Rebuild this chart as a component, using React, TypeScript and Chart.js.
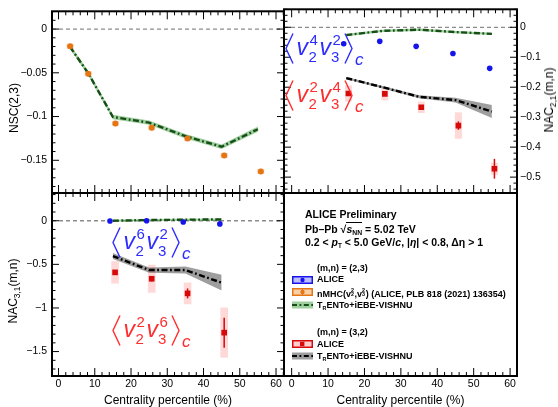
import React, { useEffect, useRef } from "react";
import { Chart, registerables } from "chart.js";
Chart.register(...registerables);

const W = 558;
const H = 407;
const FONT = "'Liberation Sans', Arial, Helvetica, sans-serif";

const BLUE = "rgb(20,20,235)";
const RED = "rgb(215,10,10)";
const ORANGE = "rgb(228,118,22)";
const GREEN_LINE = "rgb(22,78,22)";
const GREEN_BAND = "rgba(80,165,80,0.55)";
const BLACK_LINE = "#000";
const GRAY_BAND = "rgba(0,0,0,0.38)";
const TXT_BLUE = "rgb(45,45,255)";
const TXT_RED = "rgb(255,45,45)";

// ---------- shared axis ----------
const xTickValues = [0, 10, 20, 30, 40, 50, 60];

// ---------- NSC(2,3) panel ----------
const nscX = [3.2, 8.2, 15.7, 25.7, 35.6, 45.7, 55.8];
const nscY = [-0.0197, -0.051, -0.108, -0.1127, -0.125, -0.1445, -0.1627];
const nscStat = [0.0015, 0.0015, 0.0018, 0.0018, 0.002, 0.002, 0.002];
const nscSys = [0.003, 0.003, 0.003, 0.003, 0.003, 0.003, 0.003];
const nscModelX = [3.2, 8.2, 15, 25, 35, 45, 55];
const nscModelY = [-0.0205, -0.0505, -0.1005, -0.107, -0.1225, -0.1345, -0.1145];
const nscModelErr = [0.0025, 0.0025, 0.0025, 0.0025, 0.0025, 0.0025, 0.003];
const nscYTicks = [0, -0.05, -0.1, -0.15];

// ---------- NAC2,1 panel ----------
const nac21BlueX = [14.3, 24.2, 34.2, 44.3, 54.4];
const nac21BlueY = [-0.055, -0.047, -0.0636, -0.0875, -0.137];
const nac21RedX = [15.6, 25.6, 35.6, 45.8, 55.7];
const nac21RedY = [-0.221, -0.222, -0.267, -0.328, -0.472];
const nac21RedStat = [0.006, 0.006, 0.007, 0.014, 0.033];
const nac21RedSys = [0.027, 0.022, 0.019, 0.044, 0.02];
const nac21GreenX = [15, 25, 35, 45, 55];
const nac21GreenY = [-0.026, -0.012, -0.008, -0.016, -0.022];
const nac21GreenErr = [0.004, 0.004, 0.004, 0.004, 0.004];
const nac21BlackX = [15, 25, 35, 45, 55];
const nac21BlackY = [-0.1695, -0.2, -0.232, -0.243, -0.281];
const nac21BlackErr = [0.004, 0.004, 0.005, 0.008, 0.022];
const nac21YTicks = [0, -0.1, -0.2, -0.3, -0.4, -0.5];

// ---------- NAC3,1 panel ----------
const nac31BlueX = [14.2, 24.3, 34.4, 44.5];
const nac31BlueY = [-0.003, 0, -0.015, -0.036];
const nac31RedX = [15.6, 25.7, 35.6, 45.7];
const nac31RedY = [-0.592, -0.665, -0.833, -1.283];
const nac31RedStat = [0.012, 0.03, 0.057, 0.172];
const nac31RedSys = [0.128, 0.16, 0.124, 0.287];
const nac31GreenX = [15, 25, 35, 45];
const nac31GreenY = [0.0, 0.008, 0.012, 0.015];
const nac31GreenErr = [0.012, 0.012, 0.012, 0.012];
const nac31BlackX = [15, 25, 35, 45];
const nac31BlackY = [-0.405, -0.565, -0.565, -0.71];
const nac31BlackErr = [0.035, 0.03, 0.04, 0.09];
const nac31YTicks = [0, -0.5, -1, -1.5];

// ---------- helpers ----------
const pts = (xs: number[], ys: number[]) => xs.map((x, i) => ({ x, y: ys[i] }));

const fmt = (v: number) =>
  v === 0 ? "0" : (v < 0 ? "\u2212" : "") + String(Math.round(Math.abs(v) * 1000) / 1000);

const pointSet = (xs: number[], ys: number[], color: string, style: string, radius: number) => ({
  data: pts(xs, ys),
  showLine: false,
  pointStyle: style,
  pointRadius: radius,
  pointBackgroundColor: color,
  pointBorderColor: color,
  pointBorderWidth: 0,
  borderColor: "transparent",
  order: 0,
});

const lineSet = (xs: number[], ys: number[], color: string) => ({
  data: pts(xs, ys),
  borderColor: color,
  borderWidth: 2.4,
  borderDash: [6, 2.5, 1.8, 2.5],
  pointRadius: 0,
  fill: false,
  tension: 0,
  order: 1,
});

const bandSets = (xs: number[], ys: number[], e: number[], color: string) => [
  {
    data: pts(xs, ys.map((v, i) => v + e[i])),
    borderColor: "transparent",
    borderWidth: 0,
    pointRadius: 0,
    fill: false,
    order: 2,
  },
  {
    data: pts(xs, ys.map((v, i) => v - e[i])),
    borderColor: "transparent",
    borderWidth: 0,
    pointRadius: 0,
    fill: "-1",
    backgroundColor: color,
    order: 2,
  },
];

type Err = { x: number[]; y: number[]; e: number[]; color: string; hw?: number };
type PanelCfg = {
  zero: boolean;
  boxes: Err[];
  bars: Err[];
  sides: { top: boolean; bottom: boolean; left: boolean; right: boolean };
  yTicks: number[];
  yMinor: number;
};

function panelPlugin(cfg: PanelCfg) {
  return {
    id: "panel",
    beforeDatasetsDraw(chart: any) {
      const { ctx, chartArea: a, scales } = chart;
      const x = scales.x;
      const y = scales.y;
      ctx.save();
      ctx.beginPath();
      ctx.rect(a.left, a.top, a.right - a.left, a.bottom - a.top);
      ctx.clip();
      if (cfg.zero) {
        const py = y.getPixelForValue(0);
        ctx.strokeStyle = "#8c8c8c";
        ctx.lineWidth = 1.3;
        ctx.setLineDash([4, 3]);
        ctx.beginPath();
        ctx.moveTo(a.left, py);
        ctx.lineTo(a.right, py);
        ctx.stroke();
        ctx.setLineDash([]);
      }
      for (const b of cfg.boxes) {
        ctx.fillStyle = b.color;
        const hw = b.hw ?? 3.5;
        b.x.forEach((xv, i) => {
          const px = x.getPixelForValue(xv);
          const t = y.getPixelForValue(b.y[i] + b.e[i]);
          const bt = y.getPixelForValue(b.y[i] - b.e[i]);
          ctx.fillRect(px - hw, t, 2 * hw, bt - t);
        });
      }
      ctx.restore();
    },
    afterDatasetsDraw(chart: any) {
      const { ctx, scales } = chart;
      const x = scales.x;
      const y = scales.y;
      ctx.save();
      for (const b of cfg.bars) {
        ctx.strokeStyle = b.color;
        ctx.lineWidth = 1.5;
        b.x.forEach((xv, i) => {
          const px = x.getPixelForValue(xv);
          ctx.beginPath();
          ctx.moveTo(px, y.getPixelForValue(b.y[i] + b.e[i]));
          ctx.lineTo(px, y.getPixelForValue(b.y[i] - b.e[i]));
          ctx.stroke();
        });
      }
      ctx.restore();
    },
    afterDraw(chart: any) {
      const { ctx, chartArea: a, scales } = chart;
      const x = scales.x;
      const y = scales.y;
      ctx.save();
      ctx.strokeStyle = "#000";
      ctx.lineWidth = 1;
      const xMaj = 8, xMin = 4, yMaj = 7, yMin = 3.5;
      const drawX = (v: number, len: number) => {
        const px = x.getPixelForValue(v);
        ctx.beginPath();
        if (cfg.sides.bottom) { ctx.moveTo(px, a.bottom); ctx.lineTo(px, a.bottom - len); }
        if (cfg.sides.top) { ctx.moveTo(px, a.top); ctx.lineTo(px, a.top + len); }
        ctx.stroke();
      };
      const drawY = (v: number, len: number) => {
        const py = y.getPixelForValue(v);
        ctx.beginPath();
        if (cfg.sides.left) { ctx.moveTo(a.left, py); ctx.lineTo(a.left + len, py); }
        if (cfg.sides.right) { ctx.moveTo(a.right, py); ctx.lineTo(a.right - len, py); }
        ctx.stroke();
      };
      for (let k = Math.ceil(x.min / 2); k * 2 <= x.max; k++) {
        const v = k * 2;
        drawX(v, v % 10 === 0 ? xMaj : xMin);
      }
      if (cfg.sides.left || cfg.sides.right) {
        const st = cfg.yMinor;
        for (let k = Math.ceil(y.min / st - 1e-6); k * st <= y.max + 1e-9; k++) {
          const v = k * st;
          const isMaj = cfg.yTicks.some((t) => Math.abs(t - v) < st / 10);
          drawY(v, isMaj ? yMaj : yMin);
        }
      }
      ctx.lineWidth = 2;
      ctx.strokeRect(a.left, a.top, a.right - a.left, a.bottom - a.top);
      ctx.restore();
    },
  };
}

type Area = { l: number; t: number; r: number; b: number };

function buildConfig(p: {
  area: Area;
  xMin: number;
  xMax: number;
  yMin: number;
  yMax: number;
  xLabels: boolean;
  yPos: "left" | "right" | null;
  datasets: any[];
  cfg: PanelCfg;
}): any {
  const { area } = p;
  return {
    type: "line",
    data: { datasets: p.datasets },
    options: {
      responsive: false,
      animation: false,
      devicePixelRatio: 1,
      events: [],
      layout: {
        padding: {
          left: p.yPos === "left" ? 0 : area.l,
          right: p.yPos === "right" ? 0 : W - area.r,
          top: area.t,
          bottom: p.xLabels ? 0 : H - area.b,
        },
      },
      plugins: { legend: { display: false }, tooltip: { enabled: false } },
      scales: {
        x: {
          type: "linear",
          min: p.xMin,
          max: p.xMax,
          display: p.xLabels,
          grid: { display: false, drawTicks: false },
          border: { display: false },
          ticks: {
            padding: 2,
            autoSkip: false,
            maxRotation: 0,
            font: { family: FONT, size: 10.5 },
            color: "#000",
            callback: (v: any) => fmt(Number(v)),
          },
          afterBuildTicks: (s: any) => {
            s.ticks = xTickValues.map((v) => ({ value: v }));
          },
          afterFit: (s: any) => {
            s.height = p.xLabels ? H - area.b : 0;
          },
          title: {
            display: p.xLabels,
            text: "Centrality percentile (%)",
            font: { family: FONT, size: 12, lineHeight: 1 },
            color: "#000",
            padding: 0,
          },
        },
        y: {
          type: "linear",
          min: p.yMin,
          max: p.yMax,
          display: p.yPos !== null,
          position: p.yPos || "left",
          grid: { display: false, drawTicks: false },
          border: { display: false },
          ticks: {
            padding: p.yPos === "right" ? 3 : 5,
            autoSkip: false,
            font: { family: FONT, size: 10.5 },
            color: "#000",
            callback: (v: any) => fmt(Number(v)),
          },
          afterBuildTicks: (s: any) => {
            s.ticks = p.cfg.yTicks.map((v) => ({ value: v }));
          },
          afterFit: (s: any) => {
            s.width = p.yPos === "left" ? area.l : p.yPos === "right" ? W - area.r : 0;
          },
        },
      },
    },
    plugins: [panelPlugin(p.cfg)],
  };
}

const AREA_TL: Area = { l: 52, t: 6, r: 284, b: 193 };
const AREA_TR: Area = { l: 284, t: 6, r: 517, b: 193 };
const AREA_BL: Area = { l: 52, t: 193, r: 284, b: 376 };
const AREA_BR: Area = { l: 284, t: 193, r: 517, b: 376 };

function configTL() {
  return buildConfig({
    area: AREA_TL,
    xMin: -1.8,
    xMax: 62.2,
    yMin: -0.1874,
    yMax: 0.0203,
    xLabels: false,
    yPos: "left",
    datasets: [
      pointSet(nscX, nscY, ORANGE, "circle", 3),
      lineSet(nscModelX, nscModelY, GREEN_LINE),
      ...bandSets(nscModelX, nscModelY, nscModelErr, GREEN_BAND),
    ],
    cfg: {
      zero: true,
      boxes: [{ x: nscX, y: nscY, e: nscSys, color: "rgba(240,150,60,0.35)", hw: 3.5 }],
      bars: [{ x: nscX, y: nscY, e: nscStat, color: ORANGE }],
      sides: { top: true, bottom: true, left: true, right: true },
      yTicks: nscYTicks,
      yMinor: 0.01,
    },
  });
}

function configTR() {
  return buildConfig({
    area: AREA_TR,
    xMin: -2.1,
    xMax: 61.9,
    yMin: -0.553,
    yMax: 0.06,
    xLabels: false,
    yPos: "right",
    datasets: [
      pointSet(nac21BlueX, nac21BlueY, BLUE, "circle", 2.8),
      pointSet(nac21RedX, nac21RedY, RED, "rect", 4),
      lineSet(nac21GreenX, nac21GreenY, GREEN_LINE),
      lineSet(nac21BlackX, nac21BlackY, BLACK_LINE),
      ...bandSets(nac21GreenX, nac21GreenY, nac21GreenErr, GREEN_BAND),
      ...bandSets(nac21BlackX, nac21BlackY, nac21BlackErr, GRAY_BAND),
    ],
    cfg: {
      zero: true,
      boxes: [{ x: nac21RedX, y: nac21RedY, e: nac21RedSys, color: "rgba(255,60,60,0.2)", hw: 3.5 }],
      bars: [{ x: nac21RedX, y: nac21RedY, e: nac21RedStat, color: RED }],
      sides: { top: true, bottom: true, left: true, right: true },
      yTicks: nac21YTicks,
      yMinor: 0.02,
    },
  });
}

function configBL() {
  return buildConfig({
    area: AREA_BL,
    xMin: -1.8,
    xMax: 62.2,
    yMin: -1.78,
    yMax: 0.318,
    xLabels: true,
    yPos: "left",
    datasets: [
      pointSet(nac31BlueX, nac31BlueY, BLUE, "circle", 2.8),
      pointSet(nac31RedX, nac31RedY, RED, "rect", 4),
      lineSet(nac31GreenX, nac31GreenY, GREEN_LINE),
      lineSet(nac31BlackX, nac31BlackY, BLACK_LINE),
      ...bandSets(nac31GreenX, nac31GreenY, nac31GreenErr, GREEN_BAND),
      ...bandSets(nac31BlackX, nac31BlackY, nac31BlackErr, GRAY_BAND),
    ],
    cfg: {
      zero: true,
      boxes: [{ x: nac31RedX, y: nac31RedY, e: nac31RedSys, color: "rgba(255,60,60,0.2)", hw: 3.8 }],
      bars: [{ x: nac31RedX, y: nac31RedY, e: nac31RedStat, color: RED }],
      sides: { top: true, bottom: true, left: true, right: true },
      yTicks: nac31YTicks,
      yMinor: 0.1,
    },
  });
}

function configBR() {
  return buildConfig({
    area: AREA_BR,
    xMin: -2.1,
    xMax: 61.9,
    yMin: 0,
    yMax: 1,
    xLabels: true,
    yPos: null,
    datasets: [],
    cfg: {
      zero: false,
      boxes: [],
      bars: [],
      sides: { top: false, bottom: true, left: false, right: false },
      yTicks: [],
      yMinor: 1,
    },
  });
}

// ---------- overlays ----------
function Glyph(props: { t: string; left: number; base: number; size: number; italic?: boolean }) {
  return (
    <span
      style={{
        position: "absolute",
        left: props.left,
        top: props.base - 0.8465 * props.size,
        fontSize: props.size,
        lineHeight: 1,
        fontStyle: props.italic ? "italic" : "normal",
        whiteSpace: "nowrap",
      }}
    >
      {props.t}
    </span>
  );
}

function MathLabel(props: { x: number; y: number; color: string; s1: [string, string]; s2: [string, string] }) {
  const { color } = props;
  return (
    <div
      style={{
        position: "absolute",
        left: props.x,
        top: props.y,
        width: 90,
        height: 40,
        color,
        fontFamily: FONT,
      }}
    >
      <svg style={{ position: "absolute", left: 0, top: 0 }} width={9} height={31}>
        <polyline points="8,0.5 1,15.5 8,30.5" fill="none" stroke={color} strokeWidth={1.4} />
      </svg>
      <Glyph t="v" left={11.5} base={22} size={23} italic />
      <Glyph t={props.s1[0]} left={24.5} base={12} size={15} />
      <Glyph t={props.s1[1]} left={23.5} base={28.4} size={15} />
      <Glyph t="v" left={34.5} base={22} size={23} italic />
      <Glyph t={props.s2[0]} left={47.5} base={11.5} size={15} />
      <Glyph t={props.s2[1]} left={46} base={28.4} size={15} />
      <svg style={{ position: "absolute", left: 59, top: 0 }} width={9} height={31}>
        <polyline points="1,0.5 8,15.5 1,30.5" fill="none" stroke={color} strokeWidth={1.4} />
      </svg>
      <Glyph t="c" left={70} base={32} size={17} italic />
    </div>
  );
}

function YTitle(props: { cx: number; cy: number; children: React.ReactNode }) {
  return (
    <div
      style={{
        position: "absolute",
        left: props.cx,
        top: props.cy,
        transform: "translate(-50%,-50%) rotate(-90deg)",
        fontSize: 12,
        lineHeight: 1,
        whiteSpace: "nowrap",
        fontFamily: FONT,
        color: "#000",
      }}
    >
      {props.children}
    </div>
  );
}

const subStyle: React.CSSProperties = { fontSize: "0.7em", verticalAlign: "-0.3em", lineHeight: 0 };

function Txt(props: { x: number; cy: number; size: number; children: React.ReactNode }) {
  return (
    <div
      style={{
        position: "absolute",
        left: props.x,
        top: props.cy - 0.49 * props.size,
        fontSize: props.size,
        lineHeight: 1,
        fontWeight: "bold",
        whiteSpace: "nowrap",
        fontFamily: FONT,
        color: "#000",
      }}
    >
      {props.children}
    </div>
  );
}

function Stack(props: { sup: string; sub: string }) {
  const s: React.CSSProperties = { position: "absolute", left: 0, fontSize: "0.6em", lineHeight: 1 };
  return (
    <span
      style={{
        position: "relative",
        display: "inline-block",
        width: "0.4em",
        height: "1em",
        verticalAlign: "baseline",
      }}
    >
      <span style={{ ...s, top: "0.09em" }}>{props.sup}</span>
      <span style={{ ...s, top: "0.74em" }}>{props.sub}</span>
    </span>
  );
}

function Sym(props: { cy: number; kind: string }) {
  const { kind } = props;
  let body: React.ReactNode = null;
  if (kind === "blue" || kind === "orange" || kind === "red") {
    const col = kind === "blue" ? BLUE : kind === "orange" ? ORANGE : RED;
    const fill =
      kind === "blue" ? "rgba(70,70,255,0.35)" : kind === "orange" ? "rgba(240,150,60,0.45)" : "rgba(255,90,90,0.3)";
    body = (
      <>
        <rect x={0.75} y={0.75} width={19.5} height={6.5} fill={fill} stroke={col} strokeWidth={1.5} />
        {kind === "red" ? (
          <rect x={8} y={1.8} width={4.4} height={4.4} fill={col} />
        ) : (
          <circle cx={10.5} cy={4} r={2.2} fill={col} />
        )}
        {kind === "orange" && <line x1={10.5} y1={1} x2={10.5} y2={7} stroke={col} strokeWidth={1} />}
      </>
    );
  } else {
    const band = kind === "green" ? GREEN_BAND : GRAY_BAND;
    const line = kind === "green" ? GREEN_LINE : BLACK_LINE;
    body = (
      <>
        <rect x={0} y={0.5} width={21} height={7} fill={band} />
        <line x1={0} y1={4} x2={21} y2={4} stroke={line} strokeWidth={2} strokeDasharray="5 2.5 1.8 2.5" />
      </>
    );
  }
  return (
    <svg style={{ position: "absolute", left: 292, top: props.cy - 4 }} width={21} height={8}>
      {body}
    </svg>
  );
}

export default function App() {
  const r1 = useRef<HTMLCanvasElement>(null);
  const r2 = useRef<HTMLCanvasElement>(null);
  const r3 = useRef<HTMLCanvasElement>(null);
  const r4 = useRef<HTMLCanvasElement>(null);

  useEffect(() => {
    Chart.defaults.font.family = FONT;
    const charts = [
      new Chart(r1.current as HTMLCanvasElement, configTL()),
      new Chart(r2.current as HTMLCanvasElement, configTR()),
      new Chart(r3.current as HTMLCanvasElement, configBL()),
      new Chart(r4.current as HTMLCanvasElement, configBR()),
    ];
    return () => charts.forEach((c) => c.destroy());
  }, []);

  const canvasStyle: React.CSSProperties = { position: "absolute", left: 0, top: 0, width: W, height: H };

  return (
    <div
      style={{
        position: "fixed",
        left: 0,
        top: 0,
        width: W,
        height: H,
        background: "#fff",
        overflow: "hidden",
        fontFamily: FONT,
      }}
    >
      <canvas ref={r1} width={W} height={H} style={canvasStyle} />
      <canvas ref={r2} width={W} height={H} style={canvasStyle} />
      <canvas ref={r3} width={W} height={H} style={canvasStyle} />
      <canvas ref={r4} width={W} height={H} style={canvasStyle} />

      <YTitle cx={14} cy={108}>NSC(2,3)</YTitle>
      <YTitle cx={549} cy={100}>
        NAC<span style={subStyle}>2,1</span>(m,n)
      </YTitle>
      <YTitle cx={13} cy={291}>
        NAC<span style={subStyle}>3,1</span>(m,n)
      </YTitle>

      <MathLabel x={285} y={33} color={TXT_BLUE} s1={["4", "2"]} s2={["2", "3"]} />
      <MathLabel x={285} y={80} color={TXT_RED} s1={["2", "2"]} s2={["4", "3"]} />
      <MathLabel x={112} y={227} color={TXT_BLUE} s1={["6", "2"]} s2={["2", "3"]} />
      <MathLabel x={112} y={315} color={TXT_RED} s1={["2", "2"]} s2={["6", "3"]} />

      <Txt x={305} cy={214} size={10.5}>ALICE Preliminary</Txt>
      <Txt x={305} cy={229} size={10.5}>
        Pb–Pb{" "}
        <span>
          √
          <span style={{ borderTop: "1px solid #000", paddingTop: 0 }}>
            <i>s</i>
            <span style={{ fontSize: "0.65em", verticalAlign: "-0.3em", lineHeight: 0 }}>NN</span>
          </span>
        </span>{" "}
        = 5.02 TeV
      </Txt>
      <Txt x={305} cy={242.5} size={10.5}>
        0.2 &lt; <i>p</i>
        <span style={{ fontSize: "0.6em", verticalAlign: "-0.35em", lineHeight: 0 }}>T</span> &lt; 5.0 GeV/<i>c</i>,
        |<i>η</i>| &lt; 0.8, Δη &gt; 1
      </Txt>

      <Txt x={317} cy={268} size={9}>(m,n) = (2,3)</Txt>
      <Sym cy={279.5} kind="blue" />
      <Txt x={317} cy={279.5} size={9}>ALICE</Txt>
      <Sym cy={292} kind="orange" />
      <Txt x={317} cy={292} size={9}>
        nMHC(v<Stack sup="2" sub="2" />,v<Stack sup="2" sub="3" />) (ALICE, PLB 818 (2021) 136354)
      </Txt>
      <Sym cy={305} kind="green" />
      <Txt x={317} cy={305} size={9}>
        T<span style={{ fontSize: "0.6em", verticalAlign: "-0.3em", lineHeight: 0 }}>R</span>ENTo+iEBE-VISHNU
      </Txt>

      <Txt x={317} cy={332} size={9}>(m,n) = (3,2)</Txt>
      <Sym cy={344} kind="red" />
      <Txt x={317} cy={344} size={9}>ALICE</Txt>
      <Sym cy={356} kind="gray" />
      <Txt x={317} cy={356} size={9}>
        T<span style={{ fontSize: "0.6em", verticalAlign: "-0.3em", lineHeight: 0 }}>R</span>ENTo+iEBE-VISHNU
      </Txt>
    </div>
  );
}
